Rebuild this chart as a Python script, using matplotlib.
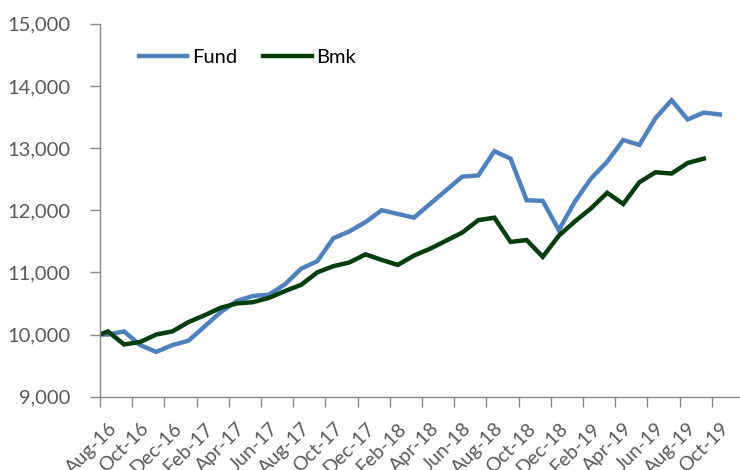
import numpy as np
import matplotlib.pyplot as plt
import matplotlib.transforms as mtransforms
from matplotlib.ticker import FuncFormatter

# growth of 10,000 - first point is inception, the rest are mid-month values
fund = [10000, 10000, 10050, 9830, 9720, 9830, 9900, 10130, 10360, 10540,
        10620, 10640, 10810, 11060, 11180, 11550, 11660, 11810, 12000, 11940,
        11880, 12100, 12320, 12540, 12560, 12950, 12830, 12160, 12150, 11680,
        12140, 12510, 12780, 13130, 13050, 13480, 13770, 13460, 13570, 13540]
bmk = [10000, 10050, 9840, 9880, 10000, 10050, 10200, 10310, 10430, 10500,
       10520, 10590, 10700, 10800, 11000, 11100, 11160, 11290, 11200, 11120,
       11270, 11380, 11510, 11640, 11840, 11880, 11490, 11520, 11250, 11590,
       11820, 12030, 12280, 12100, 12450, 12610, 12590, 12760, 12830]
tick_labels = ["Aug-16", "Oct-16", "Dec-16", "Feb-17", "Apr-17", "Jun-17",
               "Aug-17", "Oct-17", "Dec-17", "Feb-18", "Apr-18", "Jun-18",
               "Aug-18", "Oct-18", "Dec-18", "Feb-19", "Apr-19", "Jun-19",
               "Aug-19", "Oct-19"]

plt.rcParams['font.family'] = ['Lato', 'DejaVu Sans']


def month_pos(n):
    # months since Aug-16 start: inception at 0, then mid-month points
    return np.r_[0.0, np.arange(n - 1) + 0.5]


fig = plt.figure(figsize=(7.4, 4.7), dpi=100)
ax = fig.add_axes([0.135, 0.156, 0.865, 0.7935])

ax.plot(month_pos(len(fund)), fund, color='#4F81BD', lw=3.2, label='Fund',
        solid_joinstyle='miter')
ax.plot(month_pos(len(bmk)), bmk, color='#003D0C', lw=3.2, label='Bmk',
        solid_joinstyle='miter')

ax.set_xlim(0, 39.75)
ax.set_ylim(9000, 15000)
ax.set_yticks(np.arange(9000, 15001, 1000))
ax.yaxis.set_major_formatter(FuncFormatter(lambda v, p: f"{v:,.0f}"))
ax.set_xticks(np.arange(0, 2 * len(tick_labels), 2))
ax.set_xticklabels(tick_labels, rotation=45, ha='right', rotation_mode='anchor')

for s in ['top', 'right']:
    ax.spines[s].set_visible(False)
for s in ['left', 'bottom']:
    ax.spines[s].set_color('#898989')
    ax.spines[s].set_linewidth(1.0)
ax.tick_params(axis='both', colors='#898989', length=7, width=1.0,
               labelcolor='#595959', labelsize=14.5)
ax.tick_params(axis='y', pad=14)
ax.tick_params(axis='x', pad=4, labelsize=14)

# excel puts the end of the rotated label a bit right of the tick
shift = mtransforms.ScaledTranslation(8 / 100, -8 / 100, fig.dpi_scale_trans)
for lbl in ax.get_xticklabels():
    lbl.set_transform(lbl.get_transform() + shift)

leg = ax.legend(loc='center left', bbox_to_anchor=(0.032, 0.91), ncol=2,
                frameon=False, fontsize=14.5, handlelength=2.4,
                handletextpad=0.25, columnspacing=1.3)

fig.savefig('out.png', dpi=100)
